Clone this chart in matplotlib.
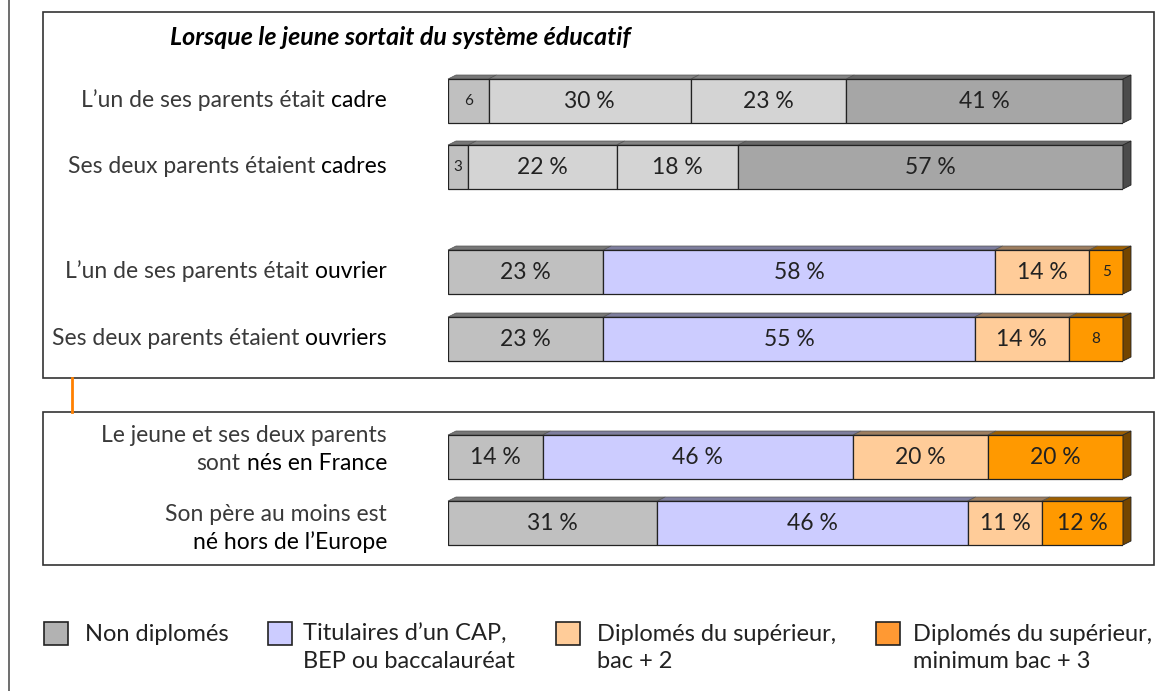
import numpy as np
import matplotlib
matplotlib.use("Agg")
import matplotlib.pyplot as plt
from matplotlib.patches import Rectangle, Polygon
from matplotlib.colors import to_rgb

plt.rcParams['font.family'] = ['Lato', 'DejaVu Sans']

# ---- data ----
row_labels = [
    [("L’un de ses parents était", "cadre")],
    [("Ses deux parents étaient", "cadres")],
    [("L’un de ses parents était", "ouvrier")],
    [("Ses deux parents étaient", "ouvriers")],
    [("Le jeune et ses deux parents", ""), ("sont", "nés en France")],
    [("Son père au moins est", ""), ("", "né hors de l’Europe")],
]
non_diplomes = [6, 3, 23, 23, 14, 31]
cap_bep_bac = [30, 22, 58, 55, 46, 46]
sup_bac2 = [23, 18, 14, 14, 20, 11]
sup_bac3 = [41, 57, 5, 8, 20, 12]
legend_labels = ["Non diplomés", "Titulaires d’un CAP,\nBEP ou baccalauréat",
                 "Diplomés du supérieur,\nbac + 2", "Diplomés du supérieur,\nminimum bac + 3"]
title = "Lorsque le jeune sortait du système éducatif"

colors_main = ["#c0c0c0", "#ccccff", "#ffcc99", "#ff9900"]
colors_cadre = ["#c0c0c0", "#d4d4d4", "#d4d4d4", "#a6a6a6"]
legend_colors = ["#b2b2b2", "#ccccff", "#ffcc99", "#ff9933"]

# ---- layout (pixels) ----
W, H = 1173, 691
row_y = [101, 167, 272, 339, 457, 523]
label_y = [101, 167, 272, 339, 450, 529]
bar_h = 44
x0_px, x1_px = 448, 1123
dx = 8 / ((x1_px - x0_px) / 100)   # depth in data units
dy = 4

fig = plt.figure(figsize=(W / 100, H / 100), dpi=100)
bg = fig.add_axes([0, 0, 1, 1])
bg.set_xlim(0, W)
bg.set_ylim(H, 0)
bg.axis("off")

ax = fig.add_axes([x0_px / W, 0, (x1_px - x0_px) / W, 1])
ax.set_xlim(0, 100)
ax.set_ylim(H, 0)
ax.axis("off")
ax.patch.set_alpha(0)

# frames
bg.plot([9, 9], [0, H], color="#555555", lw=1.2)
bg.add_patch(Rectangle((43, 12), 1111, 366, fill=False, ec="#333333", lw=1.2))
bg.add_patch(Rectangle((43, 412), 1111, 153, fill=False, ec="#333333", lw=1.2))
bg.plot([72, 72], [378, 412], color="#ff8000", lw=2)

bg.text(170, 37, title, fontsize=18, fontweight="bold", fontstyle="italic",
        ha="left", va="center", color="black")

# bars
series = np.array([non_diplomes, cap_bep_bac, sup_bac2, sup_bac3]).T
for i, vals in enumerate(series):
    cols = colors_cadre if i < 2 else colors_main
    lefts = np.concatenate([[0], np.cumsum(vals)[:-1]])
    y = row_y[i]
    top = y - bar_h / 2
    bot = y + bar_h / 2
    ax.barh(y, vals, left=lefts, height=bar_h, color=cols,
            edgecolor="#222222", linewidth=0.9, zorder=2)
    for v, l, c in zip(vals, lefts, cols):
        r = l + v
        dark = tuple(np.array(to_rgb(c)) * 0.62)
        ax.add_patch(Polygon([(l, top), (l + dx, top - dy), (r + dx, top - dy), (r, top)],
                             closed=True, fc=dark, ec="#555555", lw=0.5, zorder=1, clip_on=False))
        if v < 10:
            ax.text(l + v / 2, y, f"{v}", fontsize=11, ha="center", va="center",
                    color="#222222", zorder=3)
        else:
            ax.text(l + v / 2, y, f"{v} %", fontsize=16.5, ha="center", va="center",
                    color="#222222", zorder=3)
    end = lefts[-1] + vals[-1]
    capc = tuple(np.array(to_rgb(cols[-1])) * 0.45)
    ax.add_patch(Polygon([(end, top), (end + dx, top - dy), (end + dx, bot - dy), (end, bot)],
                         closed=True, fc=capc, ec="#222222", lw=0.6, zorder=3, clip_on=False))

# row labels (grey text, black keyword)
label_x = 387
for i, lines in enumerate(row_labels):
    n = len(lines)
    for j, (pre, key) in enumerate(lines):
        ly = label_y[i] + (j - (n - 1) / 2) * 27.5 + 6
        if key:
            kt = bg.text(label_x, ly, key, fontsize=16.5, ha="right", va="baseline",
                         color="black")
            if pre:
                bg.annotate(pre, xy=(0, ly), xycoords=(kt, "data"),
                            xytext=(-4.5, 0), textcoords="offset points",
                            fontsize=16.5, ha="right", va="baseline", color="#3a3a3a")
        else:
            bg.text(label_x, ly, pre, fontsize=16.5, ha="right", va="baseline",
                    color="#3a3a3a")

# legend
leg_sq_x = [44, 268, 556, 876]
leg_tx_x = [85, 303, 597, 913]
for sx, tx, lab, c in zip(leg_sq_x, leg_tx_x, legend_labels, legend_colors):
    bg.add_patch(Rectangle((sx, 622), 24, 23, fc=c, ec="#222222", lw=1.2))
    bg.text(tx, 624, lab, fontsize=17, ha="left", va="top", color="#222222",
            linespacing=1.35)

fig.savefig("out.png", dpi=100)
